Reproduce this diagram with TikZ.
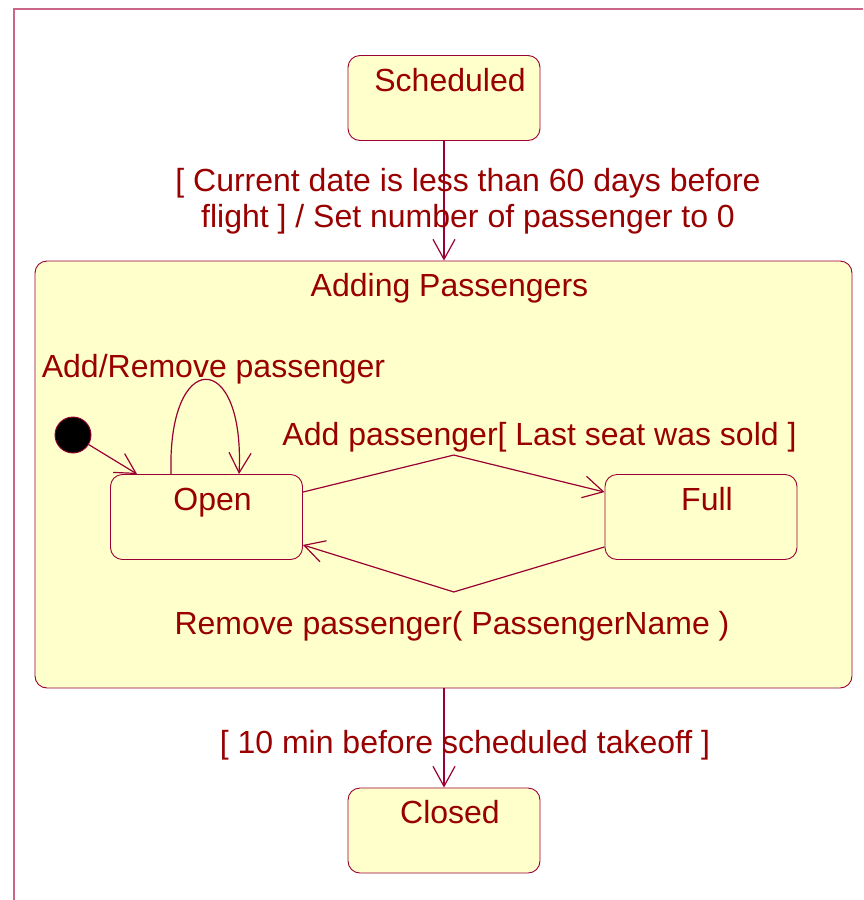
\documentclass[tikz,border=0pt]{standalone}
\usepackage{fontspec}
\setmainfont{Liberation Sans}
\usetikzlibrary{arrows.meta,positioning,calc}

\definecolor{umlline}{RGB}{153,0,51}
\definecolor{umltext}{RGB}{153,0,0}
\definecolor{umlfill}{RGB}{255,255,204}
\definecolor{umlframe}{RGB}{204,102,136}

\begin{document}
\begin{tikzpicture}[
  x=1pt, y=-1pt,
  font=\fontsize{32}{36}\selectfont,
  state/.style={rectangle, rounded corners=12pt, draw=umlline, line width=0.9pt, fill=umlfill,
                minimum width=192pt, minimum height=85pt, text=umltext,
                text height=23pt, text depth=37pt, inner sep=0pt},
  composite/.style={rectangle, rounded corners=12pt, draw=umlline, line width=0.9pt, fill=umlfill,
                    minimum width=817pt, minimum height=427pt, inner sep=0pt},
  initial/.style={circle, fill=black, draw=umlline, line width=0.9pt, minimum size=36pt, inner sep=0pt},
  lbl/.style={text=umltext, inner sep=0pt, align=center},
  trans/.style={draw=umlline, line width=1.2pt,
                -{Straight Barb[length=20pt, width=22pt, line width=1.2pt]}},
]
\useasboundingbox (0,0) rectangle (863,900);

% ---------- frame ----------
\draw[umlframe, line width=2pt] (14,900) -- (14,9) -- (863,9);

% ---------- states ----------
\node[state] (sched) at (444,98) {\hspace*{12pt}Scheduled};
\node[composite] (adding) at (443.5,474.5) {};
\node[lbl, anchor=base] (addtitle) at ([xshift=6pt, yshift=-36pt]adding.north) {Adding Passengers};
\node[initial] (init) at (73,435) {};
\node[state] (open) at (206.5,517) {\hspace*{12pt}Open};
\node[state] (full) at (701,517) {\hspace*{12pt}Full};
\node[state] (closed) at (444,830.5) {\hspace*{12pt}Closed};

% ---------- transitions ----------
\draw[trans] (sched.south) -- node[lbl, midway, xshift=24pt]
  {[ Current date is less than 60 days before\\ flight ] / Set number of passenger to 0} (sched |- adding.north);
\draw[trans] (init) -- ([xshift=27pt]open.north west);
\draw[trans] ([xshift=61pt]open.north west) .. controls ([xshift=57pt, yshift=126pt]open.north west)
  and ([xshift=135pt, yshift=126pt]open.north west) .. ([xshift=129pt]open.north west);
\draw[trans] ([yshift=-18pt]open.north east)
  -- ([yshift=19pt]$(open.north east)!0.5!(full.north west)$)
  -- ([yshift=-18pt]full.north west);
\draw[trans] ([yshift=13pt]full.south west)
  -- ([yshift=-32pt]$(open.south east)!0.5!(full.south west)$)
  -- ([yshift=15pt]open.south east);
\draw[trans] (closed |- adding.south) -- node[lbl, midway, xshift=21pt, yshift=-7pt]
  {[ 10 min before scheduled takeoff ]} (closed.north);

% ---------- labels ----------
\node[lbl, anchor=base] (selflbl) at (213.5,377) {Add/Remove passenger};
\node[lbl, anchor=base] (addlbl) at (539.5,445) {Add passenger[ Last seat was sold ]};
\node[lbl, anchor=base] (remlbl) at (452,634) {Remove passenger( PassengerName )};
\end{tikzpicture}
\end{document}
